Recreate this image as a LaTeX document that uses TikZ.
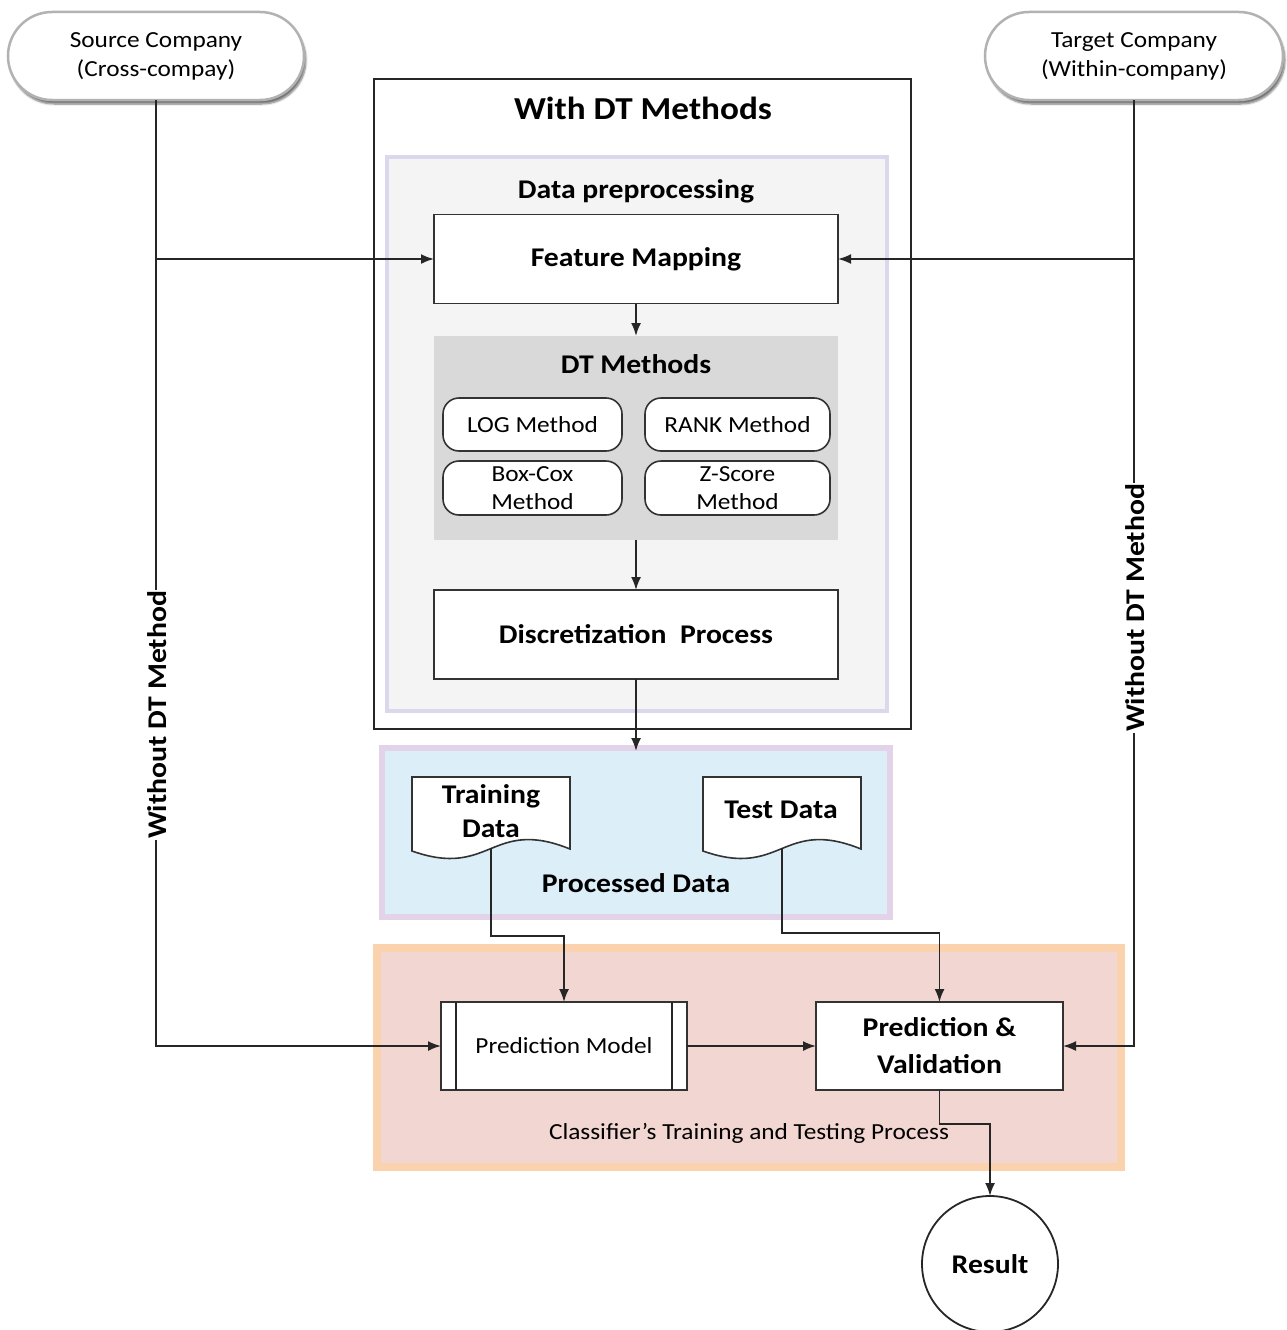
\documentclass[tikz,border=0pt]{standalone}
\usepackage{fontspec}
\setmainfont{Carlito}[FakeStretch=1.1]
\usetikzlibrary{arrows.meta,shadows.blur,calc}
\definecolor{prepfill}{HTML}{F4F4F4}
\definecolor{prepedge}{HTML}{DCD7EC}
\definecolor{dtfill}{HTML}{D9D9D9}
\definecolor{procfill}{HTML}{DCEEF8}
\definecolor{procedge}{HTML}{E2D3E8}
\definecolor{clsfill}{HTML}{F2D6D1}
\definecolor{clsedge}{HTML}{FBD2AE}
\begin{document}
\begin{tikzpicture}[x=1pt,y=-1pt,
  every node/.style={inner sep=0pt, outer sep=0pt},
  bigtxt/.style={font=\fontsize{27}{32}\selectfont\bfseries},
  medtxt/.style={font=\fontsize{23}{29}\selectfont},
  pill/.style={draw=gray!60, line width=2.5pt, fill=white, rounded corners=44pt,
    minimum height=88pt, align=center, font=\fontsize{23}{29}\selectfont,
    blur shadow={shadow xshift=2pt, shadow yshift=-4pt, shadow blur steps=6, shadow opacity=55}},
  procbox/.style={draw=black!80, line width=1.8pt, fill=white, align=center, bigtxt},
  method/.style={draw=black!80, line width=1.6pt, fill=white, rounded corners=16pt, align=center, medtxt},
  conn/.style={line width=1.8pt, draw=black!85},
  arr/.style={conn, -{Latex[length=13pt,width=10pt]}},
  docline/.style={draw=black!80, line width=1.6pt, fill=white}
]
\useasboundingbox (0,0) rectangle (1286,1330);

% outer frame and panels
\node[draw=black!85, line width=1.8pt, fill=white, minimum width=537pt, minimum height=650pt] (outer) at (642.5,404) {};
\node[font=\fontsize{32}{38}\selectfont\bfseries] (outertitle) at (643,108) {With DT Methods};
\node[draw=prepedge, line width=4pt, fill=prepfill, minimum width=500pt, minimum height=554pt] (prep) at (637,434) {};
\node[bigtxt] (preptitle) at (636,191) {Data preprocessing};
\node[fill=dtfill, minimum width=404pt, minimum height=204pt] (dtpanel) at (636,438) {};
\node[bigtxt] (dttitle) at (636,364) {DT Methods};

\node[draw=procedge, line width=6pt, fill=procfill, minimum width=508pt, minimum height=169pt] (proc) at (636,832.5) {};
\node[bigtxt] (proctitle) at (636,883) {Processed Data};

\node[draw=clsedge, line width=8pt, fill=clsfill, minimum width=744pt, minimum height=219pt] (cls) at (749,1057.5) {};
\node[font=\fontsize{23}{26}\selectfont] (clstitle) at (749,1133) {Classifier’s Training and Testing Process};

% pills
\node[pill, minimum width=296pt] (src) at (156,56) {Source Company\\(Cross-compay)};
\node[pill, minimum width=298pt] (tgt) at (1134,56) {Target Company\\(Within-company)};

% process boxes
\node[procbox, minimum width=404pt, minimum height=89pt] (fm) at (636,259) {Feature Mapping};
\node[procbox, minimum width=404pt, minimum height=89pt] (disc) at (636,634.5) {Discretization~~Process};

\node[method, minimum width=179pt, minimum height=53pt] (log) at (532.5,424.5) {LOG Method};
\node[method, minimum width=185pt, minimum height=53pt] (rank) at (737.5,424.5) {RANK Method};
\node[method, minimum width=179pt, minimum height=54pt, font=\fontsize{23}{28}\selectfont] (boxcox) at (532.5,488) {Box-Cox\\Method};
\node[method, minimum width=185pt, minimum height=54pt, font=\fontsize{23}{28}\selectfont] (zscore) at (737.5,488) {Z-Score\\Method};

% documents
\draw[docline] (412,777) -- (570,777) -- (570,849) .. controls (491,817) and (491,879) .. (412,851) -- cycle;
\draw[docline] (703,777) -- (861,777) -- (861,849) .. controls (782,817) and (782,879) .. (703,851) -- cycle;
\node[align=center, font=\fontsize{27}{34}\selectfont\bfseries] (train) at (491,811) {Training\\Data};
\node[bigtxt] (test) at (781,810) {Test Data};
\coordinate (trainb) at (491,848);
\coordinate (testb) at (782,848);

% prediction nodes
\node[procbox, minimum width=246pt, minimum height=88pt, font=\fontsize{23}{26}\selectfont] (pm) at (564,1046) {Prediction Model};
\draw[conn] ([xshift=15pt]pm.north west) -- ([xshift=15pt]pm.south west);
\draw[conn] ([xshift=-15pt]pm.north east) -- ([xshift=-15pt]pm.south east);
\node[procbox, minimum width=247pt, minimum height=88pt, font=\fontsize{27}{37}\selectfont\bfseries] (pv) at (939.5,1046) {Prediction \&\\Validation};

\node[draw=black!85, line width=1.8pt, fill=white, circle, minimum size=136pt, bigtxt] (res) at (990,1264) {Result};

% connectors
\draw[arr] (fm.south) -- (dtpanel.north);
\draw[arr] (dtpanel.south) -- (disc.north);
\draw[arr] (disc.south) -- ([yshift=-3pt]proc.north);

\draw[arr] (src.south) |- (pm.west);
\draw[arr] (fm.west -| src.south) -- (fm.west);
\draw[arr] (tgt.south) |- (pv.east);
\draw[arr] (fm.east -| tgt.south) -- (fm.east);

\coordinate (tj) at (491,936);
\draw[arr] (trainb) -- (tj) -| (pm.north);
\coordinate (sj) at (782,933);
\draw[arr] (testb) -- (sj) -| (pv.north);
\draw[arr] (pm.east) -- (pv.west);
\coordinate (rj) at (939.5,1124);
\draw[arr] (pv.south) -- (rj) -| (res.north);

% rotated labels
\node[font=\fontsize{27}{32}\selectfont\bfseries, fill=white, rotate=90, inner xsep=1pt, inner ysep=2pt] (wl) at (157,715) {Without DT Method};
\node[font=\fontsize{27}{32}\selectfont\bfseries, fill=white, rotate=90, inner xsep=1pt, inner ysep=2pt] (wr) at (1135,608) {Without DT Method};
\end{tikzpicture}
\end{document}
